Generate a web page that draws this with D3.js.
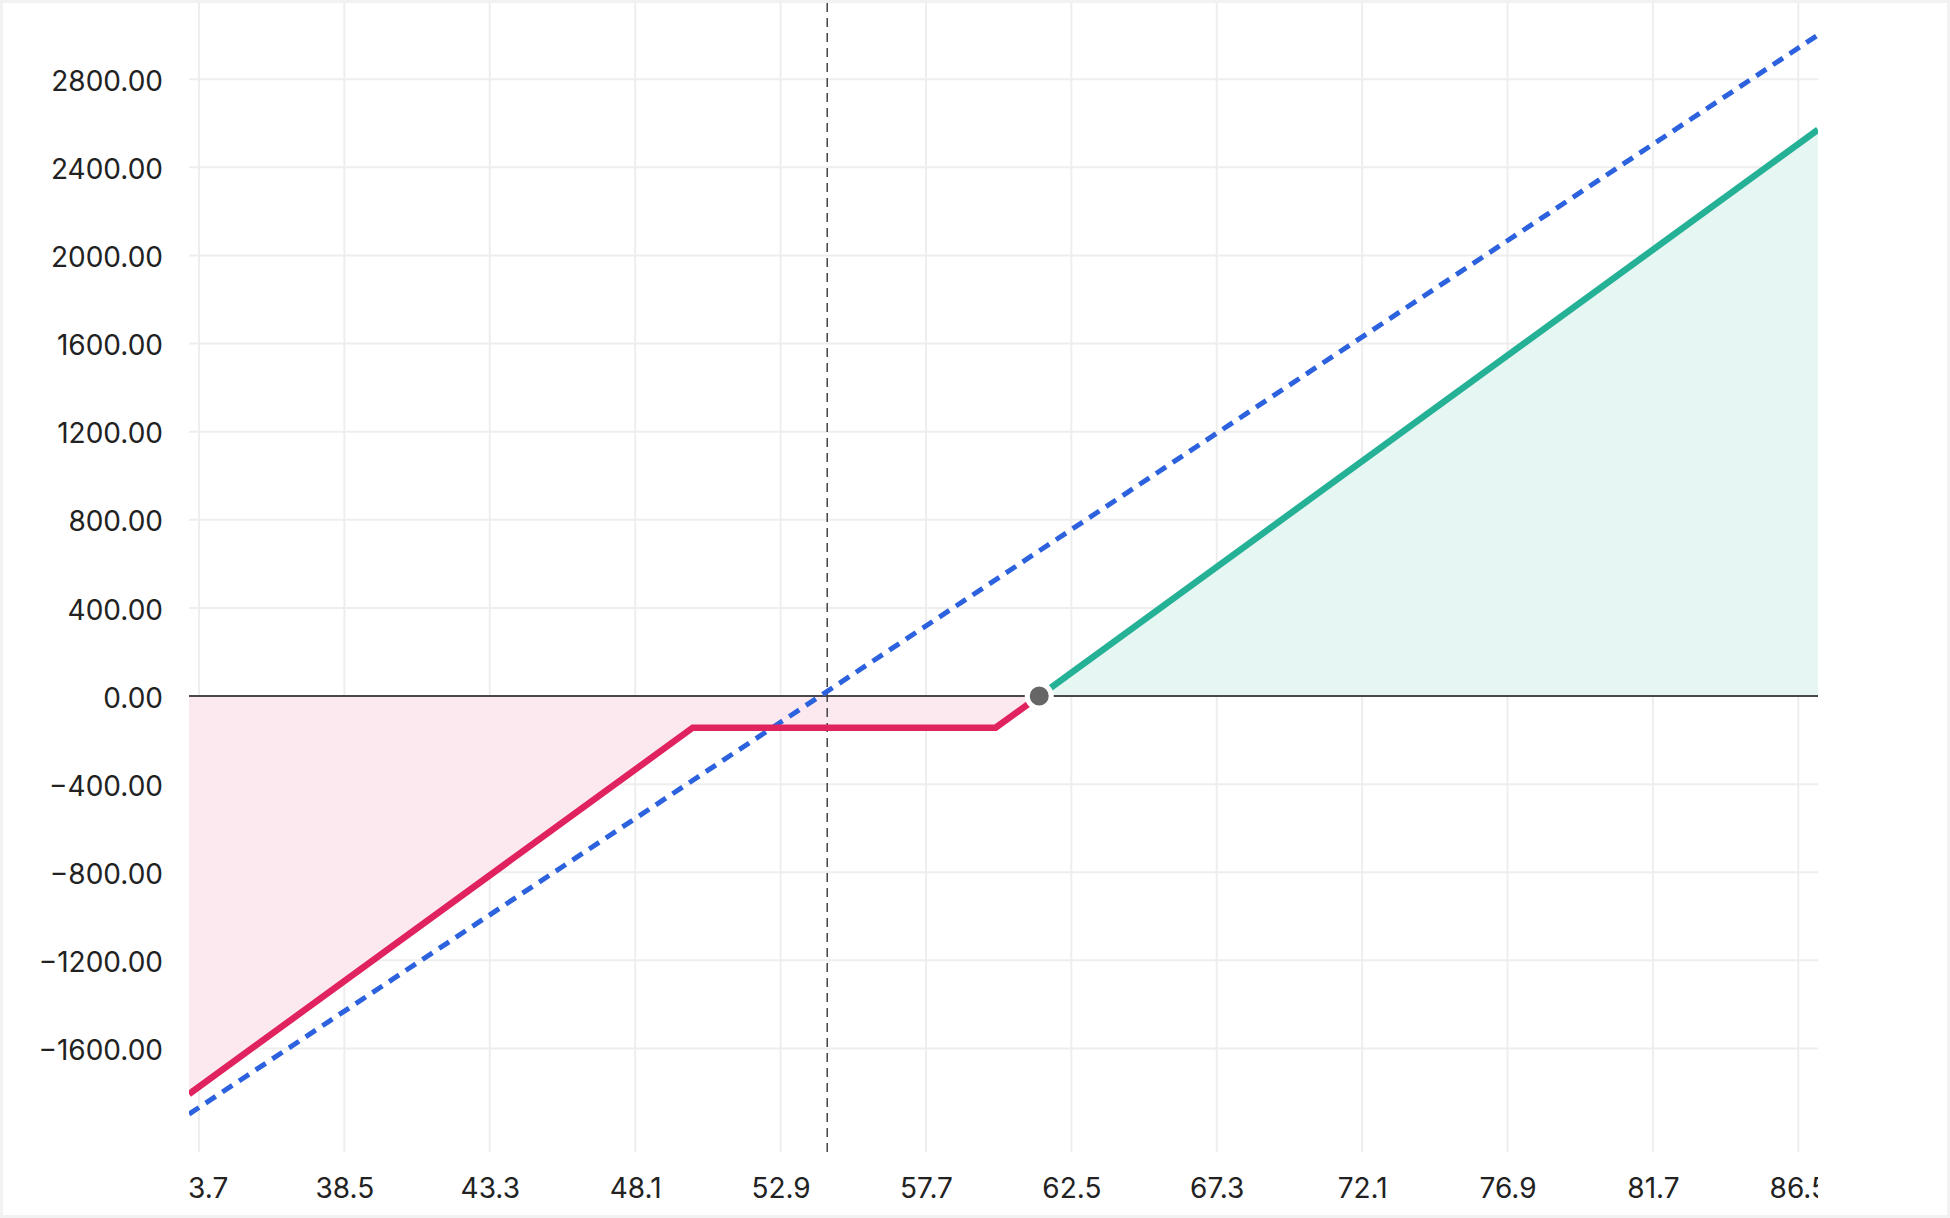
<!DOCTYPE html>
<html>
<head>
<meta charset="utf-8">
<script src="https://cdn.jsdelivr.net/npm/d3@7"></script>
<style>
  html, body { margin: 0; padding: 0; background: #fff; }
  svg { display: block; }
  text { font-family: Inter, "Noto Sans", sans-serif; }
</style>
</head>
<body>
<svg id="chart" width="1950" height="1218"></svg>
<script>
// ---- data ----
const xDomain = [33.37, 87.15];
const yDomain = [-2070, 3146];
const xTicks = [33.7, 38.5, 43.3, 48.1, 52.9, 57.7, 62.5, 67.3, 72.1, 76.9, 81.7, 86.5];
const yTicks = [-1600, -1200, -800, -400, 0, 400, 800, 1200, 1600, 2000, 2400, 2800];
const lossX = [33.37, 50.0, 60.0, 61.44];
const lossY = [-1807, -144, -144, 0];
const profitX = [61.44, 87.15];
const profitY = [0, 2571];
const stockX = [33.37, 87.15];
const stockY = [-1898, 3001];
const currentPrice = 54.44;
const breakevenX = 61.44;
const breakevenY = 0;

// ---- layout ----
const W = 1950, H = 1218;
const mLeft = 189, mRight = 1818, mTop = 3, mBottom = 1152;

const svg = d3.select("#chart");
const x = d3.scaleLinear().domain(xDomain).range([mLeft, mRight]);
const y = d3.scaleLinear().domain(yDomain).range([mBottom, mTop]);

// border
svg.append("rect").attr("x", 1.5).attr("y", 1.5).attr("width", W - 3).attr("height", H - 3)
  .attr("fill", "none").attr("stroke", "#f2f2f2").attr("stroke-width", 3);

const defs = svg.append("defs");
defs.append("clipPath").attr("id", "plotclip").append("rect")
  .attr("x", mLeft).attr("y", mTop).attr("width", mRight - mLeft).attr("height", mBottom - mTop);
defs.append("clipPath").attr("id", "xlabclip").append("rect")
  .attr("x", mLeft).attr("y", mBottom).attr("width", mRight - mLeft).attr("height", H - mBottom);

// grid
const grid = svg.append("g");
grid.selectAll("line.v").data(xTicks).join("line").attr("class", "v")
  .attr("x1", d => x(d)).attr("x2", d => x(d)).attr("y1", mTop).attr("y2", mBottom)
  .attr("stroke", "#eeeeee").attr("stroke-width", 2);
grid.selectAll("line.h").data(yTicks).join("line").attr("class", "h")
  .attr("x1", mLeft).attr("x2", mRight).attr("y1", d => y(d)).attr("y2", d => y(d))
  .attr("stroke", "#eeeeee").attr("stroke-width", 2);

const plot = svg.append("g").attr("clip-path", "url(#plotclip)");

const lossData = lossX.map((v, i) => [v, lossY[i]]);
const profitData = profitX.map((v, i) => [v, profitY[i]]);
const stockData = stockX.map((v, i) => [v, stockY[i]]);

const area = d3.area().x(d => x(d[0])).y0(y(0)).y1(d => y(d[1]));
const line = d3.line().x(d => x(d[0])).y(d => y(d[1]));

plot.append("path").datum(lossData).attr("d", area).attr("fill", "#fce8ef");
plot.append("path").datum(profitData).attr("d", area).attr("fill", "#e6f6f2");

// zero line
plot.append("line").attr("x1", mLeft).attr("x2", mRight).attr("y1", y(0)).attr("y2", y(0))
  .attr("stroke", "#111").attr("stroke-width", 1.6);

// current price
plot.append("line").attr("x1", x(currentPrice)).attr("x2", x(currentPrice))
  .attr("y1", mTop).attr("y2", mBottom)
  .attr("stroke", "#444").attr("stroke-width", 1.5).attr("stroke-dasharray", "9,6");

// stock line
plot.append("path").datum(stockData).attr("d", line).attr("fill", "none")
  .attr("stroke", "#2d62df").attr("stroke-width", 5).attr("stroke-dasharray", "12,8");

plot.append("path").datum(lossData).attr("d", line).attr("fill", "none")
  .attr("stroke", "#e0225e").attr("stroke-width", 6.5).attr("stroke-linejoin", "miter");
plot.append("path").datum(profitData).attr("d", line).attr("fill", "none")
  .attr("stroke", "#25b196").attr("stroke-width", 6.5);

// breakeven dot
svg.append("circle").attr("cx", x(breakevenX)).attr("cy", y(breakevenY)).attr("r", 12)
  .attr("fill", "#666").attr("stroke", "#fff").attr("stroke-width", 5);

// axes
const fmtY = d3.format(".2f");
const fmtX = d3.format(".1f");

const yAxis = svg.append("g").attr("transform", `translate(${mLeft},0)`)
  .call(d3.axisLeft(y).tickValues(yTicks).tickFormat(fmtY).tickSize(0).tickPadding(26));
yAxis.select(".domain").remove();
yAxis.selectAll("text").attr("font-family", "Inter, sans-serif").attr("font-size", 28)
  .attr("fill", "#222").attr("dy", "0.4em");

const xAxis = svg.append("g").attr("clip-path", "url(#xlabclip)")
  .append("g").attr("transform", `translate(0,${mBottom})`)
  .call(d3.axisBottom(x).tickValues(xTicks).tickFormat(fmtX).tickSize(0).tickPadding(26));
xAxis.select(".domain").remove();
xAxis.selectAll("text").attr("font-family", "Inter, sans-serif").attr("font-size", 28)
  .attr("fill", "#222");
</script>
</body>
</html>
